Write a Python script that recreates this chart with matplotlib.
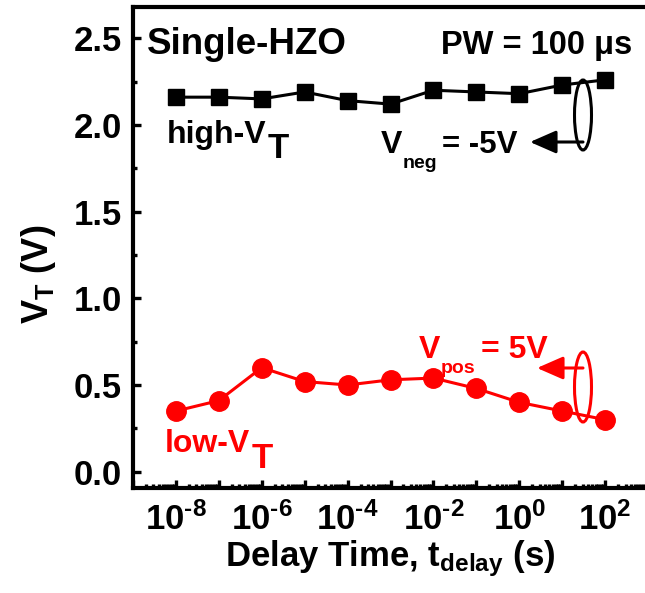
import matplotlib
matplotlib.use("Agg")
import matplotlib.pyplot as plt
import numpy as np
from matplotlib.patches import Ellipse
from matplotlib.ticker import LogLocator, FuncFormatter, MultipleLocator, NullFormatter

plt.rcParams['font.family'] = ['Liberation Sans', 'DejaVu Sans']
plt.rcParams['font.weight'] = 'bold'
plt.rcParams['mathtext.fontset'] = 'custom'
plt.rcParams['mathtext.rm'] = 'Liberation Sans:bold'
plt.rcParams['mathtext.it'] = 'Liberation Sans:bold'
plt.rcParams['mathtext.bf'] = 'Liberation Sans:bold'
plt.rcParams['mathtext.default'] = 'rm'

# Data
delay_exp = [-8, -7, -6, -5, -4, -3, -2, -1, 0, 1, 2]
delay_time = [10.0 ** e for e in delay_exp]
high_vt = [2.16, 2.16, 2.15, 2.19, 2.14, 2.12, 2.20, 2.19, 2.18, 2.23, 2.26]
low_vt = [0.35, 0.41, 0.60, 0.52, 0.50, 0.53, 0.54, 0.48, 0.40, 0.35, 0.30]

W, H = 645, 593
fig = plt.figure(figsize=(W / 100, H / 100), dpi=100)
ax = fig.add_axes([133 / W, 1 - 488 / H, 515 / W, 481 / H])
red = '#ff0000'

ax.plot(delay_time, high_vt, color='black', marker='s', markersize=11.5, lw=2.2)
ax.plot(delay_time, low_vt, color=red, marker='o', markersize=14, lw=2.2)

ax.set_xscale('log')
ax.set_xlim(1e-9, 1e3)
ax.set_ylim(-0.094, 2.68)

ax.xaxis.set_major_locator(LogLocator(base=10, numticks=30))
ax.xaxis.set_minor_locator(LogLocator(base=10, subs=np.arange(2, 10), numticks=30))
ax.xaxis.set_minor_formatter(NullFormatter())

def xfmt(v, pos):
    e = int(round(np.log10(v)))
    if e % 2 == 0:
        return r'$10^{\text{%d}}$' % e
    return ''
ax.xaxis.set_major_formatter(FuncFormatter(xfmt))
ax.yaxis.set_major_locator(MultipleLocator(0.5))
ax.yaxis.set_minor_locator(MultipleLocator(0.25))
ax.yaxis.set_major_formatter(FuncFormatter(lambda v, p: '%.1f' % v))

ax.tick_params(which='both', direction='in', width=2.4, top=False, right=False)
ax.tick_params(which='major', length=6, labelsize=25)
ax.tick_params(which='minor', length=3)
ax.tick_params(axis='y', pad=8)
ax.tick_params(axis='x', pad=10)
for lab in ax.get_xticklabels() + ax.get_yticklabels():
    lab.set_fontweight('bold')
for s in ax.spines.values():
    s.set_linewidth(3)

ax.set_xlabel(r'Delay Time, t$_{\mathrm{delay}}$ (s)', fontsize=25, fontweight='bold', labelpad=1)
ax.set_ylabel(r'V$_{\mathrm{T}}$ (V)', fontsize=26, fontweight='bold')
ax.yaxis.set_label_coords((58 - 133) / 515, (488 - 274) / 481)


def fx(x):
    return x / W


def fy(y):
    return 1 - y / H


def ftext(x, y, s, size, color='black', **kw):
    return fig.text(fx(x), fy(y), s, fontsize=size, fontweight='bold', color=color,
                    va='baseline', ha='left', **kw)


def after(art, dx, y, s, size, color='black'):
    return ax.annotate(s, xy=(1, fy(y)), xycoords=(art, 'figure fraction'),
                       xytext=(dx, 0), textcoords='offset pixels',
                       fontsize=size, fontweight='bold', color=color,
                       va='baseline', ha='left')


# Annotations
ftext(147, 54, 'Single-HZO', 26.5)
fig.text(fx(632), fy(54), 'PW = 100 μs', fontsize=23.5, fontweight='bold', va='baseline', ha='right')

t = ftext(167, 143, 'high-V', 23)
after(t, 1, 158, 'T', 25)
t = ftext(381, 153, 'V', 23)
t = after(t, 0, 168, 'neg', 14)
after(t, 5, 153, '= -5V', 22.5)

t = ftext(165, 452, 'low-V', 23, red)
after(t, 1, 468, 'T', 25, red)
t = ftext(419, 358, 'V', 23, red)
t = after(t, 0, 373, 'pos', 14, red)
after(t, 6, 358, '= 5V', 23, red)

ax.add_patch(Ellipse((fx(583), fy(115)), fx(17), 70 / H, transform=fig.transFigure,
                     fill=False, ec='black', lw=2.2))
ax.annotate('', xy=(fx(530), fy(142)), xytext=(fx(583), fy(142)), xycoords='figure fraction',
            arrowprops=dict(arrowstyle='-|>,head_length=0.8,head_width=0.35', color='black', lw=2.2,
                            mutation_scale=20, shrinkA=0, shrinkB=0))
ax.add_patch(Ellipse((fx(583), fy(387)), fx(17), 70 / H, transform=fig.transFigure,
                     fill=False, ec=red, lw=2.2))
ax.annotate('', xy=(fx(537), fy(368)), xytext=(fx(583), fy(368)), xycoords='figure fraction',
            arrowprops=dict(arrowstyle='-|>,head_length=0.8,head_width=0.35', color=red, lw=2.2,
                            mutation_scale=20, shrinkA=0, shrinkB=0))

fig.savefig('out.png', dpi=100)
